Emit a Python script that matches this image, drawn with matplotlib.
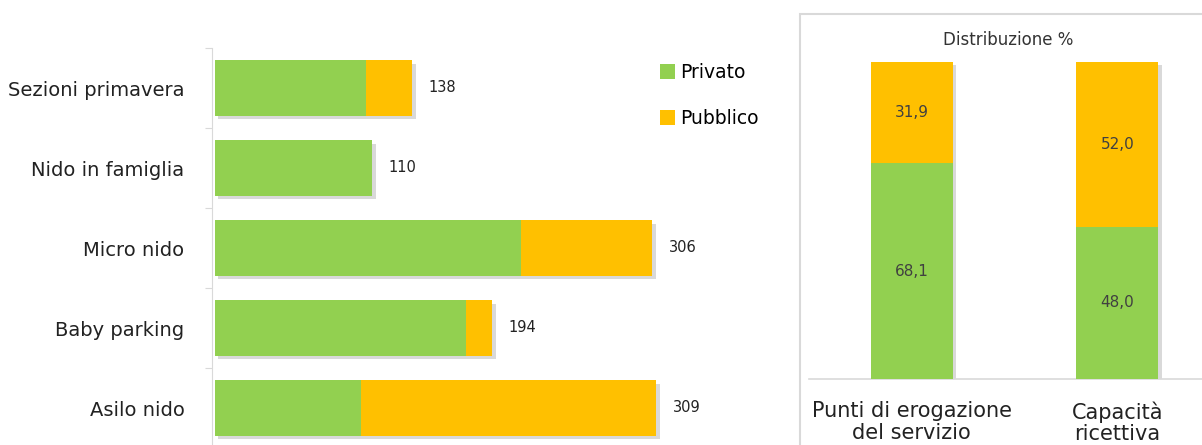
import matplotlib
matplotlib.use("Agg")
import matplotlib.pyplot as plt
import matplotlib.patheffects as pe
from matplotlib.patches import Rectangle

# dati: servizi per tipologia (privato / pubblico)
categorie = ["Sezioni primavera", "Nido in famiglia", "Micro nido", "Baby parking", "Asilo nido"]
privato = [106, 110, 214, 176, 102]
pubblico = [32, 0, 92, 18, 207]
totali = [138, 110, 306, 194, 309]

# distribuzione percentuale
voci_pct = ["Punti di erogazione\ndel servizio", "Capacità\nricettiva"]
pct_privato = [68.1, 48.0]
pct_pubblico = [31.9, 52.0]

VERDE = "#92D050"
ARANCIO = "#FFC000"
GRIGIO = "#D9D9D9"

plt.rcParams["font.family"] = ["DejaVu Sans"]

W, H = 1202, 445
fig = plt.figure(figsize=(W / 100, H / 100), dpi=100)

# ombra morbida sotto la barra intera
solo_ombra = [pe.SimplePatchShadow(offset=(2.5, -2.5), alpha=0.22, shadow_rgbFace="#555555")]

# --- pannello sinistro: barre orizzontali impilate ---
ax = fig.add_axes([215 / W, -3 / H, 600 / W, (445 - 48 + 3) / H])
y = list(range(len(categorie)))
sh = ax.barh(y, totali, height=0.69, color="white", zorder=2)
for b in sh:
    b.set_path_effects(solo_ombra)
ax.barh(y, privato, height=0.69, color=VERDE, label="Privato", zorder=3)
ax.barh(y, pubblico, left=privato, height=0.69, color=ARANCIO, label="Pubblico", zorder=3)
for yi, t in zip(y, totali):
    ax.annotate(str(t), (t, yi), xytext=(12, 0), textcoords="offset points",
                va="center", ha="left", fontsize=10.5, color="#222222")
ax.set_ylim(len(categorie) - 0.5, -0.5)
ax.set_xlim(0, 420)
ax.set_yticks([i - 0.5 for i in range(len(categorie) + 1)])
ax.set_yticklabels([])
ax.set_yticks(y, minor=True)
ax.set_yticklabels(categorie, minor=True)
ax.tick_params(axis="y", which="major", length=5, color=GRIGIO, direction="out")
ax.tick_params(axis="y", which="minor", length=0, pad=20, labelsize=14, labelcolor="#222222")
ax.set_xticks([])
for s in ["top", "right", "bottom"]:
    ax.spines[s].set_visible(False)
ax.spines["left"].set_color(GRIGIO)
ax.spines["left"].set_position(("outward", 2))

leg = ax.legend(loc="upper left", bbox_to_anchor=(428 / 600, 1.005), frameon=False,
                fontsize=13.5, handlelength=0.8, handleheight=0.8, handletextpad=0.3,
                labelspacing=1.45)

# --- pannello destro: distribuzione % ---
fig.patches.append(Rectangle((800 / W, -0.1), 0.5, 1 - 14 / H + 0.1, transform=fig.transFigure,
                             fill=False, edgecolor=GRIGIO, linewidth=1.5))
ax2 = fig.add_axes([809 / W, (H - 379) / H, 411 / W, (379 - 62) / H])
x = [0, 1]
sh2 = ax2.bar(x, [p + q for p, q in zip(pct_privato, pct_pubblico)], width=0.4,
              color="white", zorder=2)
for b in sh2:
    b.set_path_effects(solo_ombra)
ax2.bar(x, pct_privato, width=0.4, color=VERDE, zorder=3)
ax2.bar(x, pct_pubblico, bottom=pct_privato, width=0.4, color=ARANCIO, zorder=3)
for xi, p, q in zip(x, pct_privato, pct_pubblico):
    ax2.text(xi, p / 2, f"{p:.1f}".replace(".", ","), ha="center", va="center",
             fontsize=11, color="#404040", zorder=4)
    ax2.text(xi, p + q / 2, f"{q:.1f}".replace(".", ","), ha="center", va="center",
             fontsize=11, color="#404040", zorder=4)
ax2.set_xlim(-0.5, 1.5)
ax2.set_ylim(0, 100)
ax2.set_xticks(x)
ax2.set_xticklabels(voci_pct, fontsize=15, color="#222222", linespacing=1.1)
ax2.tick_params(axis="x", length=0, pad=16)
ax2.set_yticks([])
for s in ["top", "right", "left"]:
    ax2.spines[s].set_visible(False)
ax2.spines["bottom"].set_color(GRIGIO)
ax2.spines["bottom"].set_linewidth(1.2)
fig.text(1008 / W, 1 - 40 / H, "Distribuzione %", ha="center", va="center",
         fontsize=12, color="#333333")

fig.savefig("out.png", dpi=100)
